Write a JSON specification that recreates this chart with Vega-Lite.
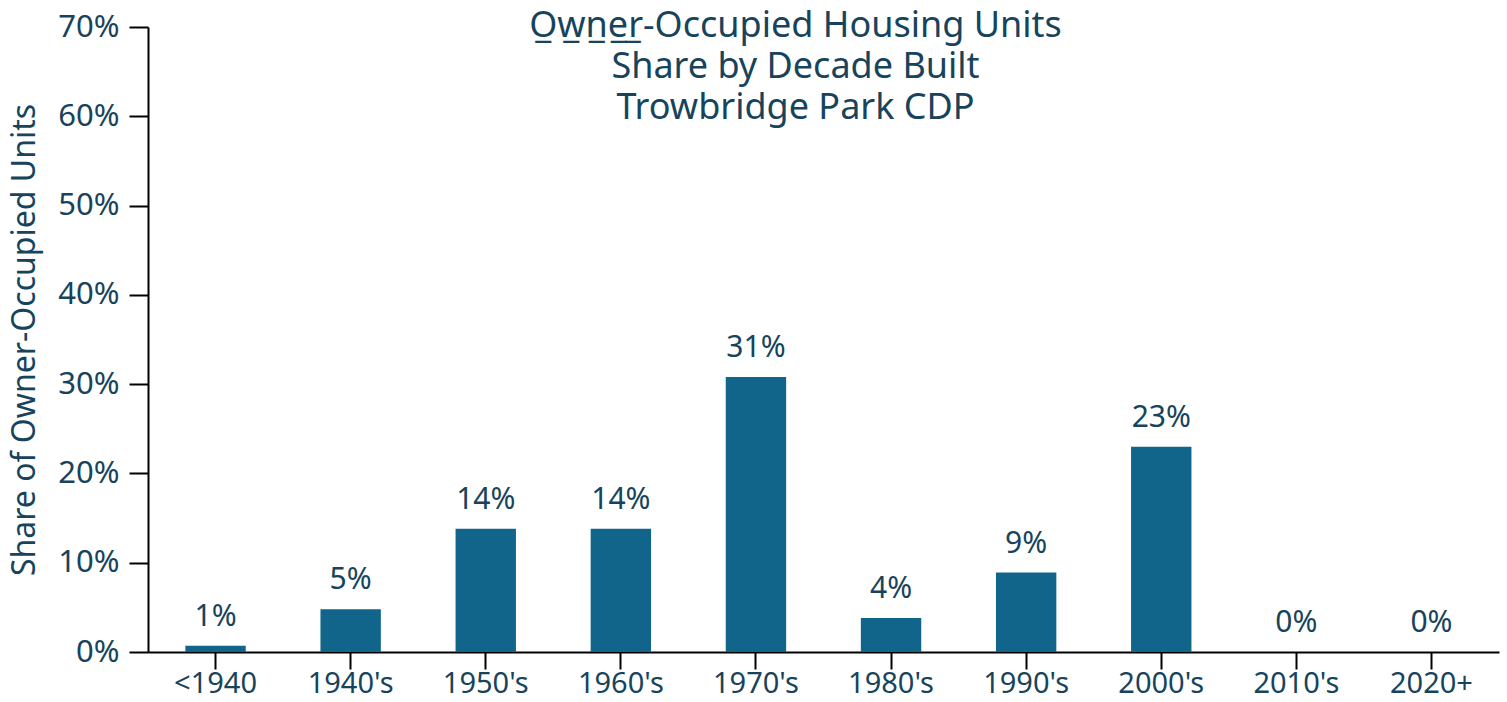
{
  "$schema": "https://vega.github.io/schema/vega-lite/v6.json",
  "width": 1351,
  "height": 625,
  "autosize": "none",
  "padding": {"left": 148, "top": 27, "right": 8, "bottom": 50},
  "background": "white",
  "title": {
    "text": ["O̲w̲n̲e̲r̲-Occupied Housing Units", "Share by Decade Built", "Trowbridge Park CDP"],
    "anchor": "middle",
    "frame": "group",
    "orient": "top",
    "baseline": "top",
    "offset": 0,
    "dx": -28,
    "dy": 116,
    "fontSize": 36,
    "fontWeight": "normal",
    "font": "Noto Sans",
    "color": "#17445c",
    "lineHeight": 41
  },
  "data": {
    "values": [
      {"decade": "<1940", "share": 0.007},
      {"decade": "1940's", "share": 0.048},
      {"decade": "1950's", "share": 0.138},
      {"decade": "1960's", "share": 0.138},
      {"decade": "1970's", "share": 0.308},
      {"decade": "1980's", "share": 0.038},
      {"decade": "1990's", "share": 0.089},
      {"decade": "2000's", "share": 0.23},
      {"decade": "2010's", "share": 0.0},
      {"decade": "2020+", "share": 0.0}
    ]
  },
  "encoding": {
    "x": {
      "field": "decade",
      "type": "nominal",
      "sort": null,
      "scale": {"paddingInner": 0.553, "paddingOuter": 0.2765},
      "axis": {
        "title": null,
        "labelAngle": 0,
        "labelFont": "Noto Sans",
        "labelFontSize": 29,
        "labelColor": "#17445c",
        "labelPadding": 0,
        "tickSize": 17,
        "tickWidth": 2,
        "tickColor": "black",
        "domainColor": "black",
        "domainWidth": 2,
        "grid": false
      }
    },
    "y": {
      "field": "share",
      "type": "quantitative",
      "scale": {"domain": [0, 0.7], "nice": false},
      "axis": {
        "title": "Share of Owner-Occupied Units",
        "titleFont": "Noto Sans",
        "titleFontSize": 32,
        "titleFontWeight": "normal",
        "titleColor": "#17445c",
        "titlePadding": 16,
        "format": ".0%",
        "values": [0, 0.1, 0.2, 0.3, 0.4, 0.5, 0.6, 0.7],
        "labelFont": "Noto Sans",
        "labelFontSize": 31,
        "labelColor": "#17445c",
        "labelPadding": 10,
        "tickSize": 19,
        "tickWidth": 2,
        "tickColor": "black",
        "domainColor": "black",
        "domainWidth": 2,
        "grid": false
      }
    }
  },
  "layer": [
    {"mark": {"type": "bar", "color": "#11658b"}},
    {
      "mark": {"type": "text", "baseline": "bottom", "dy": -14, "font": "Noto Sans", "fontSize": 30, "color": "#17445c"},
      "encoding": {"text": {"field": "share", "type": "quantitative", "format": ".0%"}}
    }
  ],
  "config": {"view": {"stroke": null}}
}
